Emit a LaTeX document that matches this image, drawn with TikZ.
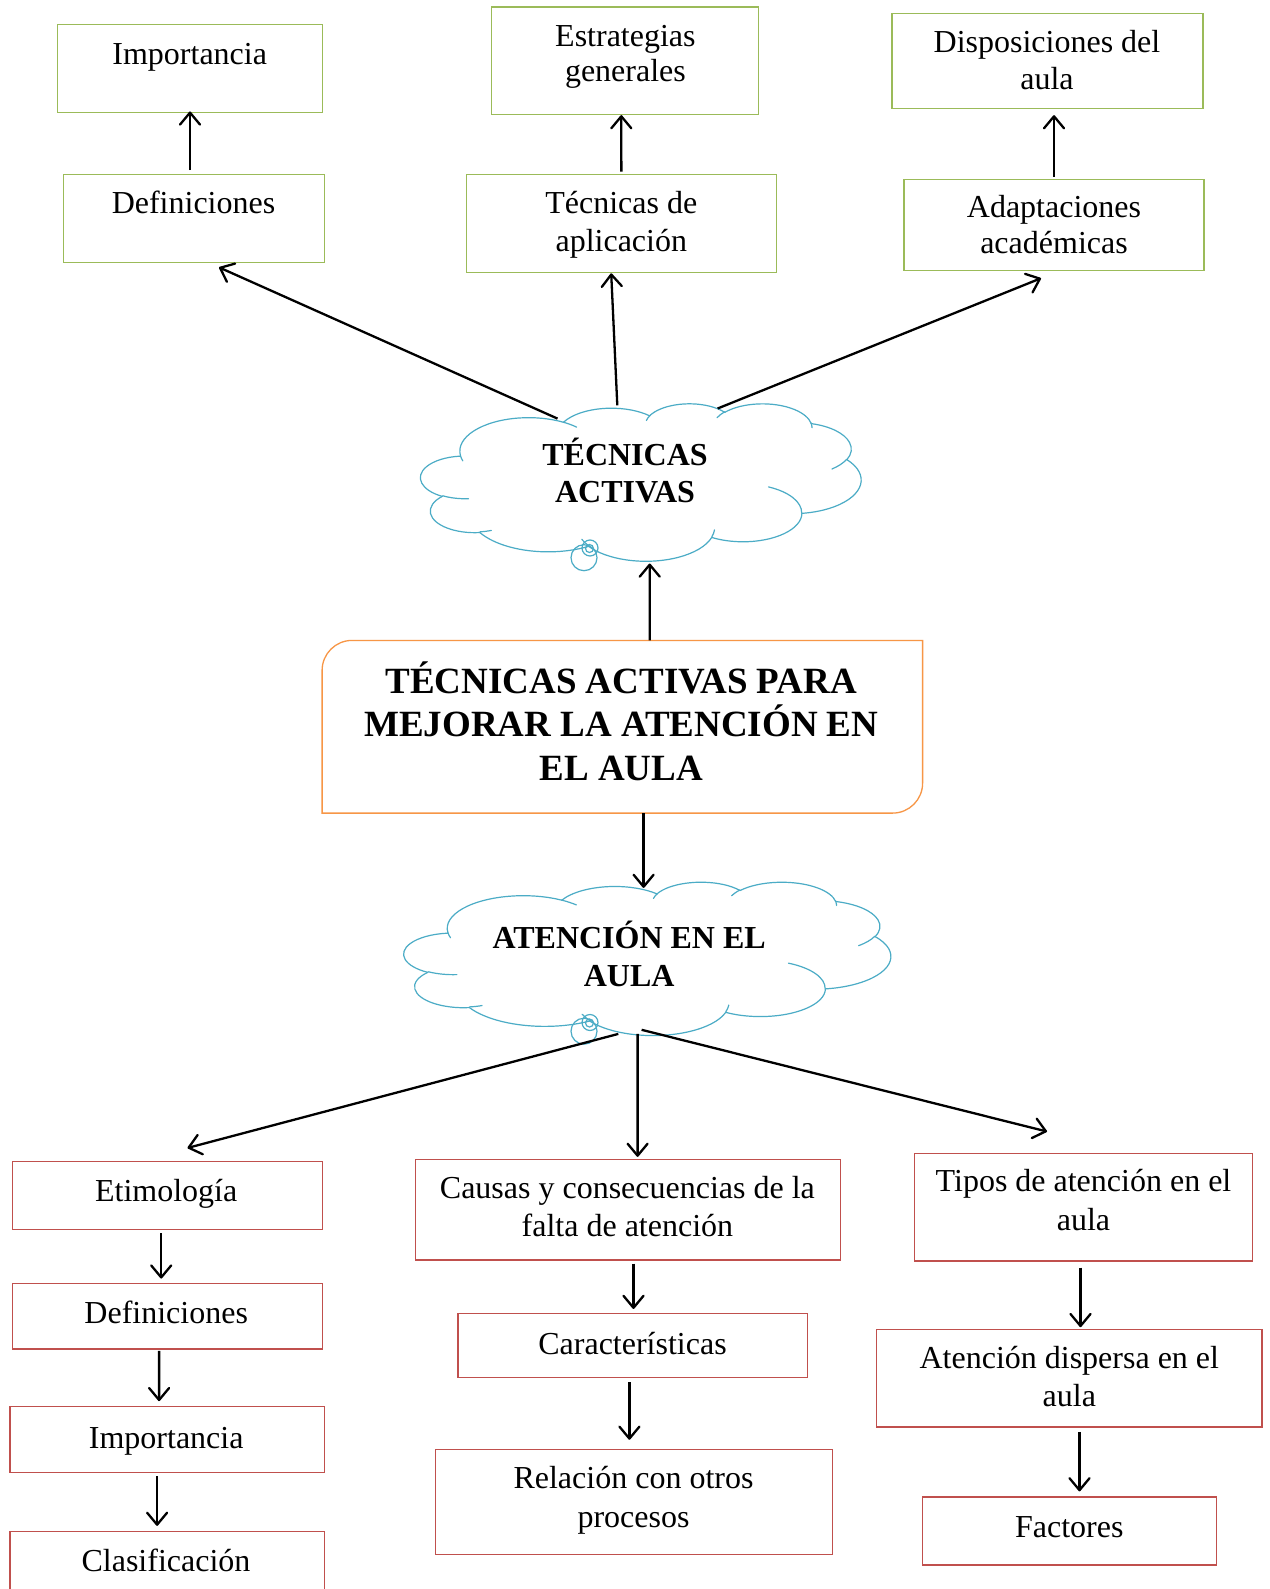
\documentclass[tikz,border=0pt]{standalone}
\usepackage{fontspec}
\setmainfont{Liberation Serif}
\usetikzlibrary{arrows.meta}
\definecolor{gline}{HTML}{9BBB59}
\definecolor{rline}{HTML}{C0504D}
\definecolor{oline}{HTML}{F79646}
\definecolor{cline}{HTML}{4BACC6}
\tikzset{
  gbox/.style={draw=gline, line width=1.3pt, inner sep=0pt},
  rbox/.style={draw=rline, line width=1.3pt, inner sep=0pt},
  txt/.style={inner sep=0pt, anchor=base, align=center, font=\fontsize{32}{37.5}\selectfont},
  btxt/.style={txt, font=\fontsize{32}{37}\selectfont\bfseries},
  arr/.style={line width=2.3pt, -{Straight Barb[length=12pt,width=20pt,round]}},
  cloudline/.style={draw=cline, line width=1.2pt, line cap=round},
}
% Office "cloud" preset outline; #1 name, #2,#3 top-left, #4 width, #5 height
\newcommand\officecloud[5]{%
  \pgfmathsetmacro\ocsx{#4/432}%
  \pgfmathsetmacro\ocsy{#5/432}%
  \coordinate (#1-p0) at ({#2+39.00*\ocsx},{#3+143.70*\ocsy});
  \foreach \wr/\hr/\st/\sw [count=\i] in {
      67.53/91.90/-190.48748/123.78053,
      53.33/72.67/-144.10238/89.94523,
      43.65/59.45/-145.80792/99.72302,
      48.57/65.95/-130.98607/117.24173,
      53.33/72.73/-78.70888/109.02692,
      67.75/92.20/-46.26725/130.26900,
      57.85/78.67/0.62502/114.03333,
      67.52/92.15/22.45160/115.17255,
      77.20/105.43/66.24263/75.71102,
      43.60/59.18/-274.94208/146.73557,
      43.45/59.45/-246.82850/152.51885}{%
      \pgfmathtruncatemacro\ocj{\i-1}%
      \pgfmathsetmacro\ocrx{\wr*\ocsx}%
      \pgfmathsetmacro\ocry{\hr*\ocsy}%
      \pgfmathsetmacro\octa{atan2(\wr*sin(\st),\hr*cos(\st))}%
      \pgfmathsetmacro\octb{atan2(\wr*sin(\st+\sw),\hr*cos(\st+\sw))}%
      \pgfmathsetmacro\ocd{mod(\octb-\octa+720,360)}%
      \pgfmathsetmacro\ocsa{-(\octa)}%
      \draw[cloudline] (#1-p\ocj) arc[start angle=\ocsa, delta angle=-\ocd, x radius=\ocrx pt, y radius=\ocry pt] coordinate (#1-p\i);
  }
  \foreach \mx/\my/\wr/\hr/\st/\sw in {
      46.93/261.77/43.45/59.45/86.742/26.4295,
      69.28/348.99/43.60/59.18/73.61047/11.44747,
      164.78/390.90/67.52/92.15/137.62415/14.0811,
      288.27/347.51/67.52/92.15/6.45327/15.99835,
      341.29/229.54/57.85/78.67/-70.29235/70.9174,
      417.98/153.54/53.33/72.73/30.31803/27.7515,
      383.24/54.26/48.57/65.95/-13.74433/14.8589,
      290.78/39.52/48.57/65.95/-149.18145/18.19537,
      221.41/47.20/43.65/59.45/-163.49427/17.68635,
      140.00/51.92/67.53/91.90/-66.70695/12.31935,
      41.27/157.89/67.53/91.90/157.65435/11.85817}{%
      \pgfmathsetmacro\ocrx{\wr*\ocsx}%
      \pgfmathsetmacro\ocry{\hr*\ocsy}%
      \pgfmathsetmacro\octa{atan2(\wr*sin(\st),\hr*cos(\st))}%
      \pgfmathsetmacro\octb{atan2(\wr*sin(\st+\sw),\hr*cos(\st+\sw))}%
      \pgfmathsetmacro\ocd{mod(\octb-\octa+720,360)}%
      \pgfmathsetmacro\ocsa{-(\octa)}%
      \draw[cloudline] ({#2+\mx*\ocsx},{#3+\my*\ocsy}) arc[start angle=\ocsa, delta angle=-\ocd, x radius=\ocrx pt, y radius=\ocry pt];
  }}
\begin{document}
\begin{tikzpicture}[x=1pt,y=-1pt]
\clip (0,0) rectangle (1269,1589);
\fill[white] (0,0) rectangle (1269,1589);

% ---------- top green boxes ----------
\node[gbox, minimum width=265, minimum height=88] (g1) at (190.2,68.3) {};
\node[gbox, minimum width=261, minimum height=88.4] (g2) at (193.8,218.5) {};
\node[gbox, minimum width=266.6, minimum height=107.4] (g3) at (624.9,60.8) {};
\node[gbox, minimum width=310.1, minimum height=98.4] (g4) at (621.35,223.5) {};
\node[gbox, minimum width=311, minimum height=95.3] (g5) at (1047.5,60.85) {};
\node[gbox, minimum width=300, minimum height=91.2] (g6) at (1054,225) {};

\node[txt] (g1t) at (189.7,64.3) {Importancia};
\node[txt] (g2t) at (193.5,213.3) {Definiciones};
\node[txt, font=\fontsize{32}{35.5}\selectfont] (g3t) at (625.4,82) {Estrategias\\generales};
\node[txt] (g4t) at (621.3,251.2) {Técnicas de\\aplicación};
\node[txt, font=\fontsize{32}{36.5}\selectfont] (g5t) at (1047,89.1) {Disposiciones del\\aula};
\node[txt, font=\fontsize{32}{35.5}\selectfont] (g6t) at (1054,253.3) {Adaptaciones\\académicas};

% ---------- clouds ----------
\officecloud{ca}{420.7}{403.3}{440.3}{157.4}
\node[inner sep=0pt, minimum width=440.3, minimum height=157.4] (c1) at (640.85,482) {};
\draw[cloudline] (584,557.7) circle[radius=13];
\draw[cloudline] (590,548) circle[radius=8];
\draw[cloudline] (589.5,548.5) circle[radius=4];
\node[btxt] (c1t) at (625,502.7) {TÉCNICAS\\ACTIVAS};

\officecloud{cb}{404}{881.7}{486.7}{153.3}
\node[inner sep=0pt, minimum width=486.7, minimum height=153.3] (c2) at (647.35,958.35) {};
\draw[cloudline] (584,1031.2) circle[radius=13];
\draw[cloudline] (590,1022.5) circle[radius=8];
\draw[cloudline] (589.5,1023) circle[radius=4];
\node[btxt, font=\fontsize{32}{38.4}\selectfont\bfseries] (c2t) at (629.2,986.7) {ATENCIÓN EN EL\\AULA};

% ---------- title ----------
\node[inner sep=0pt, minimum width=600.1, minimum height=172.3] (t) at (622.35,726.75) {};
\draw[draw=oline, line width=1.3pt] (t.south west) -- ([yshift=-30pt]t.north west)
  arc[start angle=180, end angle=270, radius=30] -- (t.north east)
  -- ([yshift=30pt]t.south east) arc[start angle=0, end angle=90, radius=30] -- cycle;
\node[txt, font=\fontsize{37}{43.5}\selectfont\bfseries] (tt) at (621.3,780.3)
  {TÉCNICAS ACTIVAS PARA\\MEJORAR LA ATENCIÓN EN\\EL AULA};

% ---------- bottom red boxes ----------
\node[rbox, minimum width=310.1, minimum height=67.9] (r1) at (167.25,1195.55) {};
\node[rbox, minimum width=310.1, minimum height=65.9] (r2) at (167.25,1316.15) {};
\node[rbox, minimum width=314.2, minimum height=66] (r3) at (167.2,1439.8) {};
\node[rbox, minimum width=314.2, minimum height=80] (r4) at (167.2,1571.5) {};
\node[rbox, minimum width=424.7, minimum height=100.4] (r5) at (627.95,1209.7) {};
\node[rbox, minimum width=349.7, minimum height=63.9] (r6) at (632.95,1345.55) {};
\node[rbox, minimum width=396.4, minimum height=105.4] (r7) at (634,1502.1) {};
\node[rbox, minimum width=338.5, minimum height=107.4] (r8) at (1083.55,1207.2) {};
\node[rbox, minimum width=385.2, minimum height=97.3] (r9) at (1069.4,1378.45) {};
\node[rbox, minimum width=293.9, minimum height=68] (r10) at (1069.35,1531) {};

\node[txt] (r1t) at (166.2,1201) {Etimología};
\node[txt] (r2t) at (166.2,1323.6) {Definiciones};
\node[txt] (r3t) at (166.2,1448.3) {Importancia};
\node[txt] (r4t) at (166,1571.7) {Clasificación};
\node[txt, font=\fontsize{32}{38.5}\selectfont] (r5t) at (627.4,1236.5) {Causas y consecuencias de la\\falta de atención};
\node[txt] (r6t) at (632.5,1354) {Características};
\node[txt, font=\fontsize{32}{38.5}\selectfont] (r7t) at (633.5,1527.4) {Relación con otros\\procesos};
\node[txt, font=\fontsize{32}{38.5}\selectfont] (r8t) at (1083.5,1230.4) {Tipos de atención en el\\aula};
\node[txt, font=\fontsize{32}{38.5}\selectfont] (r9t) at (1069.3,1406.7) {Atención dispersa en el\\aula};
\node[txt] (r10t) at (1069.3,1537.5) {Factores};

% ---------- connector points on clouds ----------
\coordinate (c1a) at (557.5,418.6);
\coordinate (c1b) at (617.3,405.4);
\coordinate (c1c) at (717.6,408.5);
\coordinate (c1in) at (649.7,563.5);
\coordinate (c2in) at (643.6,887.9);
\coordinate (c2a) at (618.3,1033.9);
\coordinate (c2b) at (637.6,1033.9);
\coordinate (c2c) at (641.6,1029.8);

% ---------- arrows ----------
\draw[arr] ([xshift=-3.8pt,yshift=3.6pt]g2.north) -- ([xshift=-0.2pt,yshift=1.5pt]g1.south);
\draw[arr] ([xshift=0pt,yshift=2pt]g4.north) -- ([xshift=-3.6pt]g3.south);
\draw[arr] ([xshift=0pt,yshift=2pt]g6.north) -- ([xshift=6.5pt,yshift=-6pt]g5.south);

\draw[arr] (c1a) -- ([xshift=25.2pt,yshift=-4pt]g2.south);
\draw[arr] (c1b) -- ([xshift=-10.15pt]g4.south);
\draw[arr] (c1c) -- ([xshift=-13pt,yshift=-7pt]g6.south);

\draw[arr] ([xshift=27.35pt]t.north) -- (c1in);
\draw[arr] ([xshift=21.25pt]t.south) -- (c2in);

\draw[arr] (c2a) -- ([xshift=20.25pt,yshift=13pt]r1.north);
\draw[arr] (c2b) -- ([xshift=9.65pt,yshift=2pt]r5.north);
\draw[arr] (c2c) -- ([xshift=-36.55pt,yshift=21.3pt]r8.north);

\draw[arr] ([xshift=-6.05pt,yshift=-3pt]r1.south) -- ([xshift=-6.05pt,yshift=4pt]r2.north);
\draw[arr] ([xshift=-8.15pt,yshift=-1pt]r2.south) -- ([xshift=-8.1pt,yshift=5pt]r3.north);
\draw[arr] ([xshift=-10.1pt,yshift=-3pt]r3.south) -- ([xshift=-10.1pt,yshift=5pt]r4.north);
\draw[arr] ([xshift=5.55pt,yshift=-3pt]r5.south) -- ([xshift=0.55pt,yshift=4pt]r6.north);
\draw[arr] ([xshift=-3.55pt,yshift=-4pt]r6.south) -- ([xshift=-4.6pt,yshift=9pt]r7.north);
\draw[arr] ([xshift=-3.05pt,yshift=-6pt]r8.south) -- ([xshift=11.1pt,yshift=2pt]r9.north);
\draw[arr] ([xshift=10.1pt,yshift=-4pt]r9.south) -- ([xshift=10.15pt,yshift=5pt]r10.north);
\end{tikzpicture}
\end{document}
